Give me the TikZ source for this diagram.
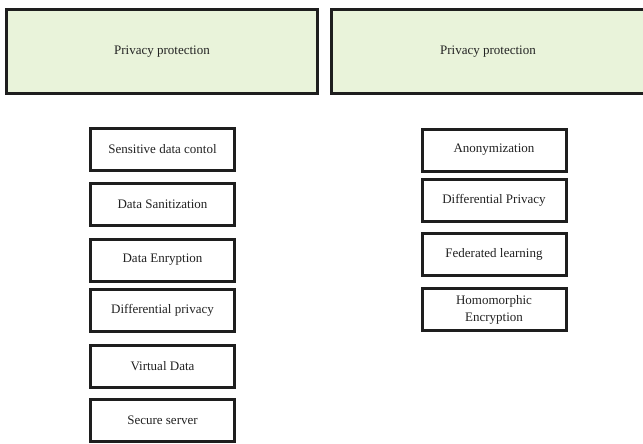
\documentclass[tikz,border=0pt]{standalone}
\usepackage{fontspec}
\setmainfont{Liberation Serif}
\definecolor{headfill}{HTML}{E9F3DA}
\definecolor{edge}{HTML}{1E1E1E}
\definecolor{ink}{HTML}{222222}
\begin{document}
\begin{tikzpicture}[x=1pt,y=-1pt,
  every node/.style={font=\fontsize{13}{17}\selectfont, text=ink, inner sep=0pt, align=center},
  header/.style={draw=edge, fill=headfill, line width=3pt, minimum width=311pt, minimum height=84pt},
  item/.style={draw=edge, fill=white, line width=3pt, minimum width=144pt, minimum height=42pt}]
\useasboundingbox (0,0) rectangle (643,444);
\clip (0,0) rectangle (643,444);

% Section headers
\node[header] (hl) at (162,51.5) {Privacy protection};
\node[header, minimum width=313pt] (hr) at (488,51.5) {Privacy protection};

% Left column
\node[item] (l1) at (162.5,149.5) {Sensitive data contol};
\node[item] (l2) at (162.5,204.5) {Data Sanitization};
\node[item] (l3) at (162.5,260) {Data Enryption};
\node[item] (l4) at (162.5,310) {Differential privacy};
\node[item] (l5) at (162.5,366) {Virtual Data};
\node[item] (l6) at (162.5,420.5) {Secure server};

% Right column
\node[item] (r1) at (494,150) {Anonymization};
\node[item] (r2) at (494,200.5) {Differential Privacy};
\node[item] (r3) at (494,254.5) {Federated learning};
\node[item] (r4) at (494,309.5) {Homomorphic\\Encryption};
\end{tikzpicture}
\end{document}
